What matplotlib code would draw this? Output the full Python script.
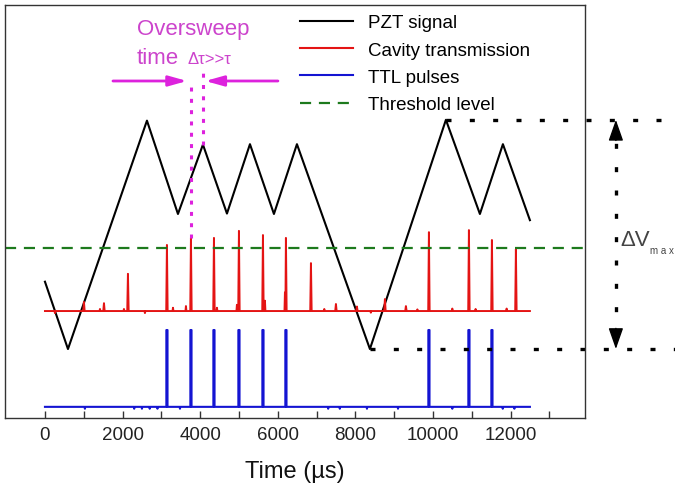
import matplotlib.pyplot as plt
import numpy as np
from matplotlib.lines import Line2D

plt.rcParams.update({"font.family": ["Liberation Sans", "DejaVu Sans"]})

W, H = 675, 489

# PZT triangle sweep (time in us, signal in arbitrary units)
pzt_t = [0, 593, 2629, 3428, 4072, 4691, 5284, 5902, 6495, 8376, 10335, 11211, 11804, 12500]
pzt_v = [3.30, 1.67, 7.20, 4.94, 6.62, 4.95, 6.63, 4.94, 6.63, 1.67, 7.22, 4.94, 6.63, 4.79]

# cavity transmission: baseline plus resonance spikes
cav_base = 2.59
cav_end = 12500
spike_t = [1005, 1521, 2139, 3144, 3763, 4356, 5000, 5619, 6211, 6856,
           7500, 8041, 8763, 9304, 9897, 10928, 11521, 12139]
spike_v = [2.81, 2.78, 3.49, 4.19, 4.36, 4.36, 4.53, 4.43, 4.36, 3.75,
           2.76, 2.70, 2.88, 2.71, 4.50, 4.55, 4.31, 4.09]
# small ripples on the transmission baseline
ripple_t = [258, 1418, 2036, 2577, 3300, 3634, 4433, 4948, 5670, 6186, 7200, 8400, 9600, 10500, 11100, 11900]
ripple_v = [-0.05, 0.05, 0.05, -0.05, 0.08, 0.12, 0.08, 0.15, 0.25, 0.45, 0.05, -0.04, 0.04, 0.06, 0.05, 0.06]

threshold = 4.12

# TTL output
ttl_low, ttl_high = 0.27, 2.13
ttl_width = 30
dip_t = [1030, 2300, 2500, 2700, 2900, 3480, 7300, 7600, 8300, 9100, 10500, 11800, 12100]

BLACK = "#000000"
RED = "#e41414"
BLUE = "#1414d2"
GREEN = "#1d7a1d"
MAGENTA = "#dd22dd"
MAG_TEXT = "#cc44cc"

fig = plt.figure(figsize=(W / 100, H / 100), dpi=100)
ax = fig.add_axes([5 / W, 1 - 419 / H, 580 / W, 413 / H])
ax.set_xlim(-1030, 13920)
ax.set_ylim(0, 10)

# PZT
ax.plot(pzt_t, pzt_v, color=BLACK, lw=1.5, label="PZT signal")

# cavity transmission trace
pts = [(0, cav_base), (cav_end, cav_base)]
for t, v in zip(spike_t, spike_v):
    pts += [(t - 18, cav_base), (t, v), (t + 18, cav_base)]
for t, d in zip(ripple_t, ripple_v):
    pts += [(t - 12, cav_base), (t, cav_base + d), (t + 12, cav_base)]
pts.sort()
ct, cv = zip(*pts)
ax.plot(ct, cv, color=RED, lw=1.4, label="Cavity transmission")

# TTL pulses fire where transmission crosses threshold
pulse_t = [t for t, v in zip(spike_t, spike_v) if v > threshold]
tp = [(0, ttl_low), (cav_end, ttl_low)]
for t in pulse_t:
    tp += [(t - ttl_width / 2, ttl_low), (t - ttl_width / 2 + 0.1, ttl_high),
           (t + ttl_width / 2 - 0.1, ttl_high), (t + ttl_width / 2, ttl_low)]
for t in dip_t:
    tp += [(t - 8, ttl_low), (t, ttl_low - 0.045), (t + 8, ttl_low)]
tp.sort()
tt, tv = zip(*tp)
ax.plot(tt, tv, color=BLUE, lw=1.5, label="TTL pulses")

# threshold
ax.axhline(threshold, color=GREEN, lw=1.6, ls=(0, (5, 3.5)), label="Threshold level")

# oversweep annotation
arrow_y = 8.16
t_res = spike_t[4]
t_turn = pzt_t[4]
ax.plot([t_res, t_res], [spike_v[4], arrow_y], color=MAGENTA, lw=2.2,
        ls=(0, (1.3, 2.4)))
ax.plot([t_turn, t_turn], [pzt_v[4], 8.50], color=MAGENTA, lw=2.2,
        ls=(0, (1.3, 2.4)))
head = "-|>,head_length=1.0,head_width=0.28"
ax.annotate("", xy=(t_res - 100, arrow_y), xytext=(1753, arrow_y),
            arrowprops=dict(arrowstyle=head, color=MAGENTA, lw=2.0,
                            mutation_scale=11, shrinkA=0, shrinkB=0))
ax.annotate("", xy=(t_turn + 60, arrow_y), xytext=(6005, arrow_y),
            arrowprops=dict(arrowstyle=head, color=MAGENTA, lw=2.0,
                            mutation_scale=11, shrinkA=0, shrinkB=0))
fig.text(137 / W, 1 - 29 / H, "Oversweep", fontsize=16, color=MAG_TEXT,
         ha="left", va="center")
fig.text(137 / W, 1 - 58 / H, "time", fontsize=16, color=MAG_TEXT,
         ha="left", va="center")
fig.text(187 / W, 1 - 59 / H, "Δτ>>τ", fontsize=12, color=MAG_TEXT,
         ha="left", va="center")

# delta V max annotation
vmax, vmin = max(pzt_v), min(pzt_v)
t_max = pzt_t[pzt_v.index(vmax)]
t_min = pzt_t[len(pzt_v) - 1 - pzt_v[::-1].index(vmin)]
x_arrow = 14716
dot = (0, (1.5, 5.5))
ax.plot([t_max, 16000], [vmax, vmax], color=BLACK, lw=2.4, ls=dot, clip_on=False)
ax.plot([t_min, 16250], [vmin, vmin], color=BLACK, lw=2.4, ls=dot, clip_on=False)
ax.plot([x_arrow, x_arrow], [vmin + 0.35, vmax - 0.35], color=BLACK, lw=2.4,
        ls=dot, clip_on=False)
vhead = "-|>,head_length=1.0,head_width=0.35"
ax.annotate("", xy=(x_arrow, vmax), xytext=(x_arrow, vmax - 0.5),
            arrowprops=dict(arrowstyle=vhead, color=BLACK, lw=1,
                            mutation_scale=13, shrinkA=0, shrinkB=0),
            annotation_clip=False)
ax.annotate("", xy=(x_arrow, vmin), xytext=(x_arrow, vmin + 0.5),
            arrowprops=dict(arrowstyle=vhead, color=BLACK, lw=1,
                            mutation_scale=13, shrinkA=0, shrinkB=0),
            annotation_clip=False)
fig.text(620 / W, 1 - 241 / H, "ΔV", fontsize=16, color="#444444",
         ha="left", va="center")
fig.text(650 / W, 1 - 251 / H, "m a x", fontsize=7, color="#444444",
         ha="left", va="center")

# axes cosmetics
for s in ax.spines.values():
    s.set_color("#333333")
    s.set_linewidth(1.0)
ax.set_yticks([])
ax.set_xticks(range(0, 12001, 2000))
ax.set_xticks(range(1000, 13001, 2000), minor=True)
ax.tick_params(axis="x", which="both", direction="in", length=5, width=1.0,
               colors="#333333", labelsize=13.5, pad=6, labelcolor="#222222")
ax.set_xlabel("Time (µs)", fontsize=17, color="#111111", labelpad=12)

handles = [Line2D([], [], color=BLACK, lw=1.5),
           Line2D([], [], color=RED, lw=1.5),
           Line2D([], [], color=BLUE, lw=1.5),
           Line2D([], [], color=GREEN, lw=1.6, ls=(0, (5, 3.5)))]
labels = ["PZT signal", "Cavity transmission", "TTL pulses", "Threshold level"]
fig.legend(handles, labels, loc="upper left",
           bbox_to_anchor=(300 / W, 1 - 15 / H), frameon=False, fontsize=13.5,
           handlelength=2.8, handletextpad=0.85, labelspacing=0.55,
           borderpad=0, borderaxespad=0)

fig.savefig("out.png", dpi=100)
